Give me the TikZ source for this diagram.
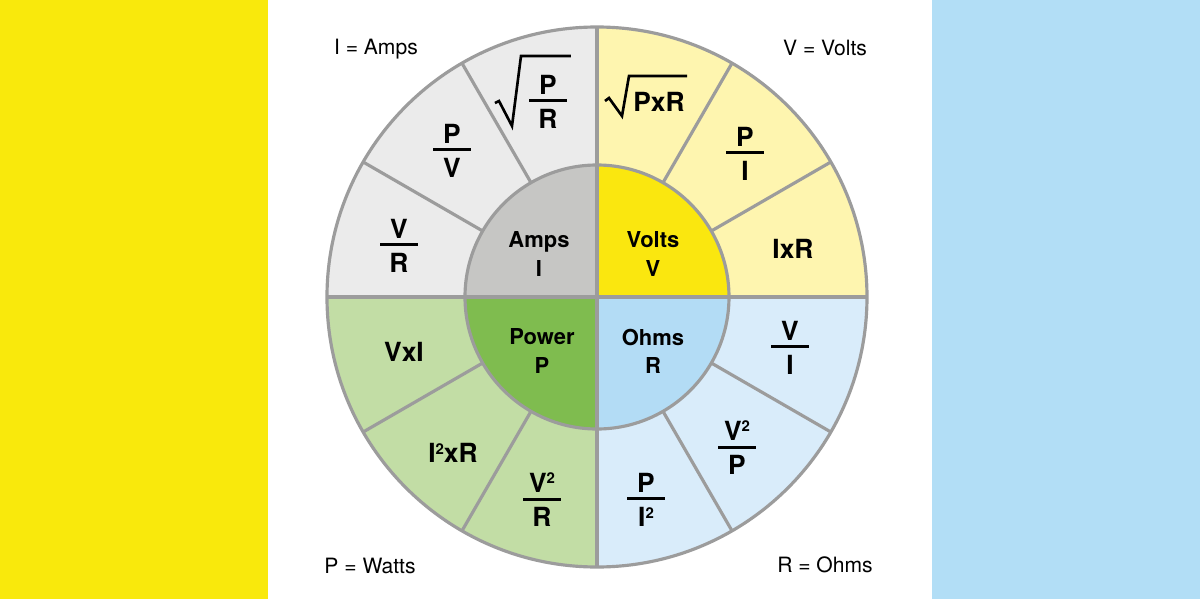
\documentclass[tikz,border=0pt]{standalone}
\usepackage{fontspec}
\setmainfont{TeX Gyre Heros}
\usetikzlibrary{positioning}

\definecolor{bandyellow}{HTML}{F9E90C}
\definecolor{bandblue}{HTML}{B2DEF6}
\definecolor{ampsout}{HTML}{EBEBEB}
\definecolor{ampsin}{HTML}{C6C6C4}
\definecolor{voltsout}{HTML}{FEF5AF}
\definecolor{voltsin}{HTML}{FAE70F}
\definecolor{powerout}{HTML}{C2DDA5}
\definecolor{powerin}{HTML}{7FBC4F}
\definecolor{ohmsout}{HTML}{D9ECFA}
\definecolor{ohmsin}{HTML}{B3DCF5}
\definecolor{rim}{HTML}{9C9C9C}

% numerator over a bar over denominator
\newcommand{\frc}[2]{\vbox{\offinterlineskip\halign{\hfil##\hfil\cr #1\cr\noalign{\kern2.8pt}\rule{21.6pt}{1.7pt}\cr\noalign{\kern4pt}#2\cr}}}
% small squared sign, top level with the capitals
\newcommand{\sq}{\raisebox{5pt}{\fontsize{8.5}{8.5}\selectfont 2}}

\begin{document}
\begin{tikzpicture}[
  x=0.02cm, y=0.02cm,
  rim/.style={draw=rim, line width=1.8pt},
  formula/.style={font=\bfseries\fontsize{15}{18}\selectfont, inner sep=0pt},
  unit/.style={font=\bfseries\fontsize{12.5}{16}\selectfont, align=center, inner sep=0pt},
  legend/.style={font=\fontsize{12}{14}\selectfont, inner sep=0pt},
  radical/.style={line width=1.5pt, line join=miter}
]

% page and side bands
\useasboundingbox (-597,-302) rectangle (603,297);
\fill[white] (-597,-302) rectangle (603,297);
\fill[bandyellow] (-597,-302) rectangle (-329,297);
\fill[bandblue] (335,-302) rectangle (603,297);

% quadrants: outer ring, then inner disc
\fill[voltsout] (0,0) -- (0:270) arc[start angle=0, end angle=90, radius=270] -- cycle;
\fill[ampsout] (0,0) -- (90:270) arc[start angle=90, end angle=180, radius=270] -- cycle;
\fill[powerout] (0,0) -- (180:270) arc[start angle=180, end angle=270, radius=270] -- cycle;
\fill[ohmsout] (0,0) -- (270:270) arc[start angle=270, end angle=360, radius=270] -- cycle;
\fill[voltsin] (0,0) -- (0:132) arc[start angle=0, end angle=90, radius=132] -- cycle;
\fill[ampsin] (0,0) -- (90:132) arc[start angle=90, end angle=180, radius=132] -- cycle;
\fill[powerin] (0,0) -- (180:132) arc[start angle=180, end angle=270, radius=132] -- cycle;
\fill[ohmsin] (0,0) -- (270:132) arc[start angle=270, end angle=360, radius=132] -- cycle;

% grey rims and dividers
\draw[rim] (0,0) circle[radius=270];
\draw[rim] (0,0) circle[radius=132];
\draw[rim] (-270,0) -- (270,0);
\draw[rim] (0,-270) -- (0,270);
\draw[rim] (30:132) -- (30:270);
\draw[rim] (60:132) -- (60:270);
\draw[rim] (120:132) -- (120:270);
\draw[rim] (150:132) -- (150:270);
\draw[rim] (210:132) -- (210:270);
\draw[rim] (240:132) -- (240:270);
\draw[rim] (300:132) -- (300:270);
\draw[rim] (330:132) -- (330:270);

% centre labels
\node[unit] (amps) at (-58,43) {Amps\\I};
\node[unit] (volts) at (56,43) {Volts\\V};
\node[unit] (power) at (-55,-54) {Power\\P};
\node[unit] (ohms) at (56,-54) {Ohms\\R};

% current
\node[formula] (IVR) at (-198,51) {\frc{V}{R}};
\node[formula] (IPV) at (-145,146) {\frc{P}{V}};
\node[formula] (IPR) at (-49,195) {\frc{P}{R}};
\draw[radical, shift={(IPR.center)}] (-53,-1) -- (-49,1) -- (-36,-24) -- (-27,46) -- (23,46);

% voltage
\node[formula] (VPR) at (62,195) {PxR};
\draw[radical, shift={(VPR.center)}] (-54,1) -- (-50,4) -- (-37,-14) -- (-30,26) -- (28,26);
\node[formula] (VPI) at (148,143) {\frc{P}{I}};
\node[formula] (VIR) at (196,48) {IxR};

% resistance
\node[formula] (RVI) at (193,-51) {\frc{V}{I}};
\node[formula] (RVP) at (140,-151) {\frc{V\sq}{P}};
\node[formula] (RPI) at (49,-203) {\frc{P}{I\sq}};

% power
\node[formula] (PVR) at (-55,-203) {\frc{V\sq}{R}};
\node[formula] (PIR) at (-144,-156) {I\sq xR};
\node[formula] (PVI) at (-193,-55) {VxI};

% legend in the corners
\node[legend] (legI) at (-221,248) {I = Amps};
\node[legend] (legV) at (228,249) {V = Volts};
\node[legend] (legP) at (-227,-269) {P = Watts};
\node[legend] (legR) at (228,-268) {R = Ohms};

\end{tikzpicture}
\end{document}
